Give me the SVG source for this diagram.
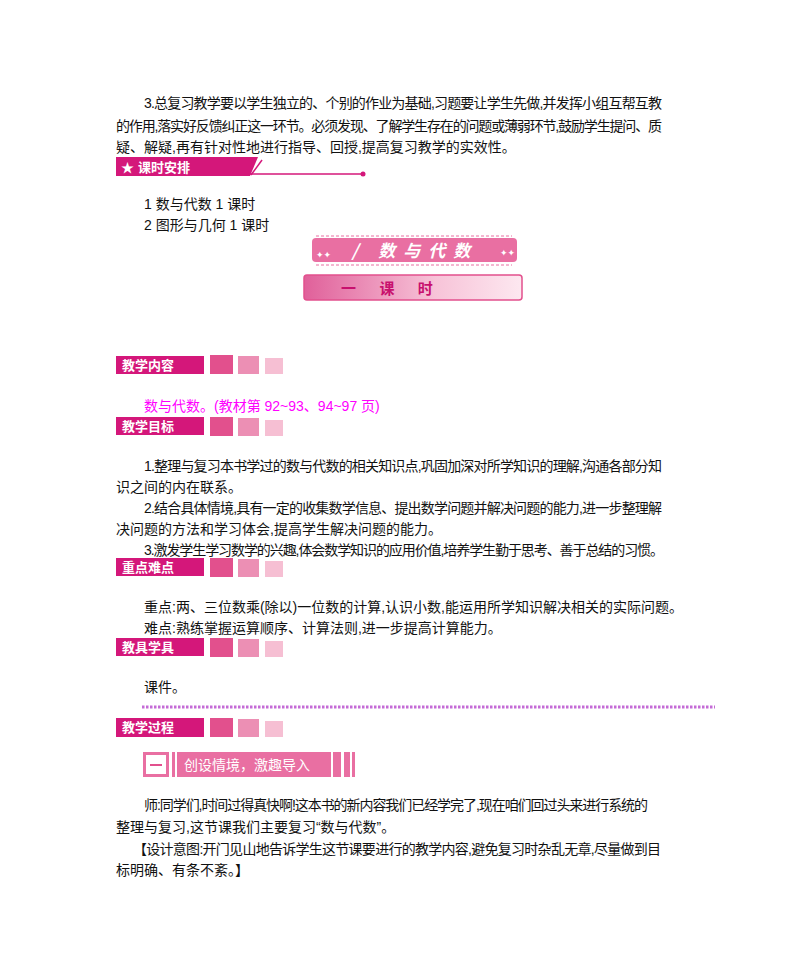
<svg xmlns="http://www.w3.org/2000/svg" width="800" height="977" viewBox="0 0 800 977">
<style>
.t{font-family:"Liberation Sans","Noto Sans CJK SC",sans-serif;font-size:14px;fill:#111}
.m{fill:#f0f}
.lab{font-family:"Noto Sans CJK SC",sans-serif;font-size:13px;fill:#fff;font-weight:bold}
.lb{fill:#d4177a}
.s1{fill:#e2508d}.s2{fill:#ec8fb4}.s3{fill:#f6bfd3}
</style>
<defs>
<g id="sq"><rect class="s1" x="0" y="0" width="23" height="19"/><rect class="s2" x="28" y="1" width="21" height="18"/><rect class="s3" x="55" y="3" width="18" height="16"/></g>
<linearGradient id="g1" x1="0" x2="1"><stop offset="0" stop-color="#e0609a"/><stop offset="0.6" stop-color="#f7c3d8"/><stop offset="1" stop-color="#fde8f0"/></linearGradient>
</defs>
<g id="para1">
<text class="t" x="144" y="108" textLength="518">3.总复习教学要以学生独立的、个别的作业为基础,习题要让学生先做,并发挥小组互帮互教</text>
<text class="t" x="116" y="131" textLength="546">的作用,落实好反馈纠正这一环节。必须发现、了解学生存在的问题或薄弱环节,鼓励学生提问、质</text>
<text class="t" x="116" y="152">疑、解疑,再有针对性地进行指导、回授,提高复习教学的实效性。</text>
</g>
<g id="h-keshi">
<polygon points="116,157 258,157 250,176 116,176" class="lb"/>
<text x="121" y="172" font-family="Noto Sans CJK SC,sans-serif" font-size="13" fill="#fff">★</text>
<text class="lab" x="138" y="172" font-size="14">课时安排</text>
<line x1="244" y1="174" x2="363" y2="174" stroke="#d4177a" stroke-width="1.5"/>
<line x1="262" y1="160" x2="251" y2="175" stroke="#d4177a" stroke-width="1.5"/>
<circle cx="363" cy="174" r="2.5" fill="#d4177a"/>
</g>
<g id="list">
<text class="t" x="144" y="209">1   数与代数 1 课时</text>
<text class="t" x="144" y="230">2   图形与几何     1 课时</text>
</g>
<g id="banner1">
<rect x="312" y="238" width="205" height="24" rx="4" fill="#e96fa2"/>
<line x1="316" y1="236" x2="512" y2="236" stroke="#e96fa2" stroke-dasharray="3,2"/>
<line x1="316" y1="265" x2="512" y2="265" stroke="#e96fa2" stroke-dasharray="3,2"/>
<text x="415" y="257" text-anchor="middle" font-family="Noto Sans CJK SC,sans-serif" font-size="17" font-weight="bold" font-style="italic" fill="#fff" letter-spacing="8">/ 数与代数</text>
<text x="316" y="258" font-size="9" fill="#fff" font-family="DejaVu Sans,sans-serif">✦✦</text>
<text x="500" y="256" font-size="9" fill="#fff" font-family="DejaVu Sans,sans-serif">✦✦</text>
</g>
<g id="banner2">
<rect x="304" y="275" width="218" height="25" rx="3" fill="url(#g1)" stroke="#e2508d" stroke-width="1.5"/>
<text x="341" y="294" font-family="Noto Sans CJK SC,sans-serif" font-size="15" font-weight="bold" fill="#c8106e" letter-spacing="10">一 课 时</text>
</g>
<g id="h-neirong">
<rect x="116" y="356" width="88" height="18" class="lb"/>
<text class="lab" x="122" y="370">教学内容</text>
<use href="#sq" x="210" y="355"/>
</g>
<text class="t m" x="144" y="411">数与代数。(教材第 92~93、94~97 页)</text>
<g id="h-mubiao">
<rect x="116" y="417" width="88" height="18" class="lb"/>
<text class="lab" x="122" y="431">教学目标</text>
<use href="#sq" x="210" y="417"/>
</g>
<g id="para2">
<text class="t" x="144" y="471" textLength="518">1.整理与复习本书学过的数与代数的相关知识点,巩固加深对所学知识的理解,沟通各部分知</text>
<text class="t" x="116" y="492">识之间的内在联系。</text>
<text class="t" x="144" y="513" textLength="518">2.结合具体情境,具有一定的收集数学信息、提出数学问题并解决问题的能力,进一步整理解</text>
<text class="t" x="116" y="534">决问题的方法和学习体会,提高学生解决问题的能力。</text>
<text class="t" x="144" y="555" textLength="520">3.激发学生学习数学的兴趣,体会数学知识的应用价值,培养学生勤于思考、善于总结的习惯。</text>
</g>
<g id="h-zhongdian">
<rect x="116" y="558" width="88" height="18" class="lb"/>
<text class="lab" x="122" y="572">重点难点</text>
<use href="#sq" x="210" y="558"/>
</g>
<g id="para3">
<text class="t" x="144" y="612">重点:两、三位数乘(除以)一位数的计算,认识小数,能运用所学知识解决相关的实际问题。</text>
<text class="t" x="144" y="633">难点:熟练掌握运算顺序、计算法则,进一步提高计算能力。</text>
</g>
<g id="h-jiaoju">
<rect x="116" y="638" width="88" height="18" class="lb"/>
<text class="lab" x="122" y="652">教具学具</text>
<use href="#sq" x="210" y="638"/>
</g>
<text class="t" x="144" y="692">课件。</text>
<line x1="142" y1="707" x2="715" y2="707" stroke="#c46bd6" stroke-width="3" stroke-dasharray="2.5,1.5"/>
<g id="h-guocheng">
<rect x="116" y="718" width="88" height="19" class="lb"/>
<text class="lab" x="122" y="732">教学过程</text>
<use href="#sq" x="210" y="718"/>
</g>
<g id="banner3">
<rect x="143" y="752" width="26" height="25" fill="#e96fa2"/>
<rect x="146" y="755" width="20" height="19" fill="#fff"/>
<rect x="150" y="764" width="12" height="2" fill="#e2508d"/>
<rect x="172" y="752" width="3" height="25" fill="#e96fa2"/>
<rect x="177" y="752" width="154" height="25" fill="#e96fa2"/>
<text x="184" y="770" font-family="Noto Sans CJK SC,sans-serif" font-size="14" fill="#fff">创设情境，激趣导入</text>
<rect x="333" y="752" width="8" height="25" fill="#e96fa2"/>
<rect x="344" y="752" width="6" height="25" fill="#e96fa2"/>
<rect x="352" y="752" width="3" height="25" fill="#e96fa2"/>
</g>
<g id="para4">
<text class="t" x="144" y="810" textLength="504">师:同学们,时间过得真快啊!这本书的新内容我们已经学完了,现在咱们回过头来进行系统的</text>
<text class="t" x="116" y="832">整理与复习,这节课我们主要复习“数与代数”。</text>
<text class="t" x="133" y="854" textLength="528">【设计意图:开门见山地告诉学生这节课要进行的教学内容,避免复习时杂乱无章,尽量做到目</text>
<text class="t" x="116" y="875">标明确、有条不紊。】</text>
</g>
</svg>
